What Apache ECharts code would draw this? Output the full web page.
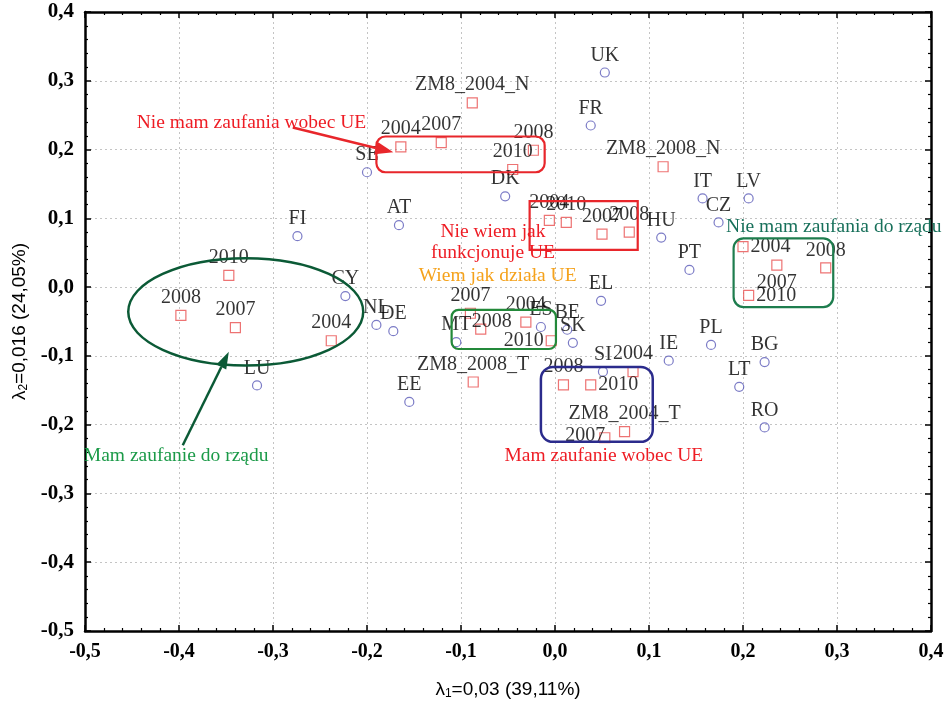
<!DOCTYPE html>
<html>
<head>
<meta charset="utf-8">
<script src="https://cdn.jsdelivr.net/npm/echarts@6/dist/echarts.min.js"></script>
<style>
  html, body { margin: 0; padding: 0; background: #fff; }
  #main { width: 947px; height: 705px; }
</style>
</head>
<body>
<div id="main"></div>
<script>
// punkty krajow (kolka)
var countryNames = ['UK','FR','SE','DK','AT','FI','IT','LV','CZ','HU','PT','EL','CY','NL','DE','MT','ES','BE','SK','SI','IE','PL','BG','LT','RO','LU','EE'];
var countryX = [0.053, 0.038, -0.200, -0.053, -0.166, -0.274, 0.157, 0.206, 0.174, 0.113, 0.143, 0.049, -0.223, -0.190, -0.172, -0.105, -0.015, 0.013, 0.019, 0.051, 0.121, 0.166, 0.223, 0.196, 0.223, -0.317, -0.155];
var countryY = [0.312, 0.235, 0.167, 0.132, 0.090, 0.074, 0.129, 0.129, 0.094, 0.072, 0.025, -0.020, -0.013, -0.055, -0.064, -0.080, -0.058, -0.062, -0.081, -0.123, -0.107, -0.084, -0.109, -0.145, -0.204, -0.143, -0.167];

// punkty lat / kategorii (kwadraty)
var yearNames = ['ZM8_2004_N','2004','2007','2008','2010','ZM8_2008_N','2004','2010','2007','2008','2004','2007','2008','2010','2010','2008','2007','2004','2007','2008','2004','2010','ZM8_2008_T','2008','2010','2004','ZM8_2004_T','2007'];
var yearX = [-0.088, -0.164, -0.121, -0.023, -0.045, 0.115, -0.006, 0.012, 0.050, 0.079, 0.200, 0.236, 0.288, 0.206, -0.347, -0.398, -0.340, -0.238, -0.090, -0.079, -0.031, -0.004, -0.087, 0.009, 0.038, 0.083, 0.074, 0.053];
var yearY = [0.268, 0.204, 0.210, 0.199, 0.171, 0.175, 0.097, 0.094, 0.077, 0.080, 0.059, 0.032, 0.028, -0.012, 0.017, -0.041, -0.059, -0.078, -0.038, -0.061, -0.051, -0.078, -0.138, -0.142, -0.142, -0.123, -0.210, -0.219];

var axisTicks = [-0.5, 0.4, 0.1]; // min, max, interval

// polozenie etykiet innych niz "nad punktem"
var yearLabelPlace = {
  10: {position: 'right'},
  11: {position: 'bottom'},
  13: {position: 'right'},
  19: {position: 'top', offset: [11, 10]},
  21: {position: 'left'},
  24: {position: 'right'},
  27: {position: 'left', offset: [8, -2]}
};

var serif = "'Liberation Serif', 'Times New Roman', serif";
var narrow = "'Liberation Sans Narrow', 'Liberation Sans', Arial, sans-serif";

var countryData = countryNames.map(function(n, i){ return [countryX[i], countryY[i], n]; });
var yearData = yearNames.map(function(n, i){
  var item = {value: [yearX[i], yearY[i], n]};
  if (yearLabelPlace[i]) item.label = yearLabelPlace[i];
  return item;
});

function fmt(v){
  if (Math.abs(v) < 1e-9) v = 0;
  return v.toFixed(1).replace('.', ',');
}

var chart = echarts.init(document.getElementById('main'));

var baseAxis = {
  type: 'value',
  min: axisTicks[0],
  max: axisTicks[1],
  interval: axisTicks[2],
  axisLine: { onZero: false, lineStyle: { color: '#000', width: 2.5 } },
  axisTick: { inside: true, length: 6, lineStyle: { color: '#000', width: 1.5 } },
  minorTick: { show: true, splitNumber: 5, length: 3, lineStyle: { color: '#000', width: 1.2 } }
};

function mkAxis(extra){ return Object.assign({}, baseAxis, extra); }

var nameRich = {
  a: { fontFamily: narrow, fontSize: 19, color: '#000' },
  s: { fontFamily: narrow, fontSize: 12, color: '#000', verticalAlign: 'bottom', padding: [9, 0, 0, 0] }
};

option = {
  animation: false,
  backgroundColor: '#fff',
  grid: { left: 85, right: 16, top: 12, bottom: 72 },
  xAxis: [
    mkAxis({
      position: 'bottom',
      name: '{a|λ}{s|1}{a|=0,03 (39,11%)}',
      nameLocation: 'middle',
      nameGap: 48,
      nameTextStyle: { rich: nameRich },
      axisLabel: { formatter: fmt, margin: 11, color: '#000', fontFamily: serif, fontWeight: 'bold', fontSize: 20 },
      splitLine: { show: true, lineStyle: { color: '#c4c4c4', type: [2, 3], width: 1 } }
    }),
    mkAxis({ position: 'top', axisLabel: { show: false }, splitLine: { show: false } })
  ],
  yAxis: [
    mkAxis({
      position: 'left',
      name: '{a|λ}{s|2}{a|=0,016 (24,05%)}',
      nameLocation: 'middle',
      nameGap: 55,
      nameTextStyle: { rich: nameRich },
      axisLabel: { formatter: fmt, margin: 11, color: '#000', fontFamily: serif, fontWeight: 'bold', fontSize: 21 },
      splitLine: { show: true, lineStyle: { color: '#c4c4c4', type: [2, 3], width: 1 } }
    }),
    mkAxis({ position: 'right', axisLabel: { show: false }, splitLine: { show: false } })
  ],
  series: [
    {
      name: 'kraje',
      type: 'scatter',
      xAxisIndex: 0, yAxisIndex: 0,
      symbol: 'circle',
      symbolSize: 9,
      itemStyle: { color: 'rgba(255,255,255,0)', borderColor: '#5a5ab8', borderWidth: 1.2 },
      label: {
        show: true, position: 'top', distance: 2,
        formatter: function(p){ return p.value[2]; },
        color: '#000', fontFamily: serif, fontSize: 20
      },
      data: countryData,
      z: 3
    },
    {
      name: 'lata',
      type: 'scatter',
      xAxisIndex: 0, yAxisIndex: 0,
      symbol: 'rect',
      symbolSize: 10,
      itemStyle: { color: 'rgba(255,255,255,0)', borderColor: '#e85050', borderWidth: 1.2 },
      label: {
        show: true, position: 'top', distance: 2,
        formatter: function(p){ return p.value[2]; },
        color: '#000', fontFamily: serif, fontSize: 20
      },
      data: yearData,
      z: 3
    }
  ]
};
chart.setOption(option);

// adnotacje w ukladzie danych
function px(p){ return chart.convertToPixel({xAxisIndex: 0, yAxisIndex: 0}, p); }

function box(x0, y0, x1, y1, r, color, w){
  var a = px([x0, y0]), b = px([x1, y1]);
  return {
    type: 'rect', z: 5,
    shape: { x: Math.min(a[0], b[0]), y: Math.min(a[1], b[1]), width: Math.abs(b[0] - a[0]), height: Math.abs(b[1] - a[1]), r: r },
    style: { fill: null, stroke: color, lineWidth: w }
  };
}

function arrow(from, to, color, w, hl, hw){
  var a = px(from), b = px(to);
  var dx = b[0] - a[0], dy = b[1] - a[1];
  var len = Math.sqrt(dx * dx + dy * dy);
  var ux = dx / len, uy = dy / len;
  var bx = b[0] - ux * hl, by = b[1] - uy * hl;
  return [
    { type: 'line', z: 5, shape: { x1: a[0], y1: a[1], x2: bx, y2: by }, style: { stroke: color, lineWidth: w } },
    { type: 'polygon', z: 5, shape: { points: [[b[0], b[1]], [bx - uy * hw / 2, by + ux * hw / 2], [bx + uy * hw / 2, by - ux * hw / 2]] }, style: { fill: color } }
  ];
}

function note(p, txt, color, align){
  var a = px(p);
  return {
    type: 'text', z: 6, x: a[0], y: a[1],
    style: { text: txt, fill: color, font: '19.5px ' + serif, align: align || 'center', verticalAlign: 'middle', lineHeight: 21 }
  };
}

var c = px([-0.329, -0.036]);
var e = px([-0.329 + 0.125, -0.036 - 0.078]);

var graphics = [
  box(-0.190, 0.219, -0.011, 0.167, 9, '#e8262b', 2.2),
  box(-0.027, 0.125, 0.088, 0.054, 0, '#e8262b', 2.2),
  box(-0.110, -0.033, 0.001, -0.090, 7, '#23893a', 2.2),
  box(0.190, 0.071, 0.296, -0.029, 10, '#1e7d4e', 2.2),
  box(-0.015, -0.116, 0.104, -0.225, 12, '#2b2b8c', 2.5),
  {
    type: 'ellipse', z: 5,
    shape: { cx: c[0], cy: c[1], rx: e[0] - c[0], ry: e[1] - c[1] },
    style: { fill: null, stroke: '#0b5a36', lineWidth: 2.5 }
  },
  note([-0.445, 0.239], 'Nie mam zaufania wobec UE', '#ee1c24', 'left'),
  note([-0.066, 0.065], 'Nie wiem jak\nfunkcjonuje UE', '#ee1c24'),
  note([-0.061, 0.017], 'Wiem jak działa UE', '#f5a21b'),
  note([0.182, 0.087], 'Nie mam zaufania do rządu', '#17705a', 'left'),
  note([-0.403, -0.246], 'Mam zaufanie do rządu', '#1b9a48'),
  note([0.052, -0.245], 'Mam zaufanie wobec UE', '#ee1c24')
];
graphics = graphics.concat(arrow([-0.279, 0.232], [-0.172, 0.196], '#e8262b', 2.5, 18, 13));
graphics = graphics.concat(arrow([-0.396, -0.230], [-0.347, -0.094], '#0b5a36', 2.5, 17, 11));

chart.setOption({ graphic: graphics });
</script>
</body>
</html>
